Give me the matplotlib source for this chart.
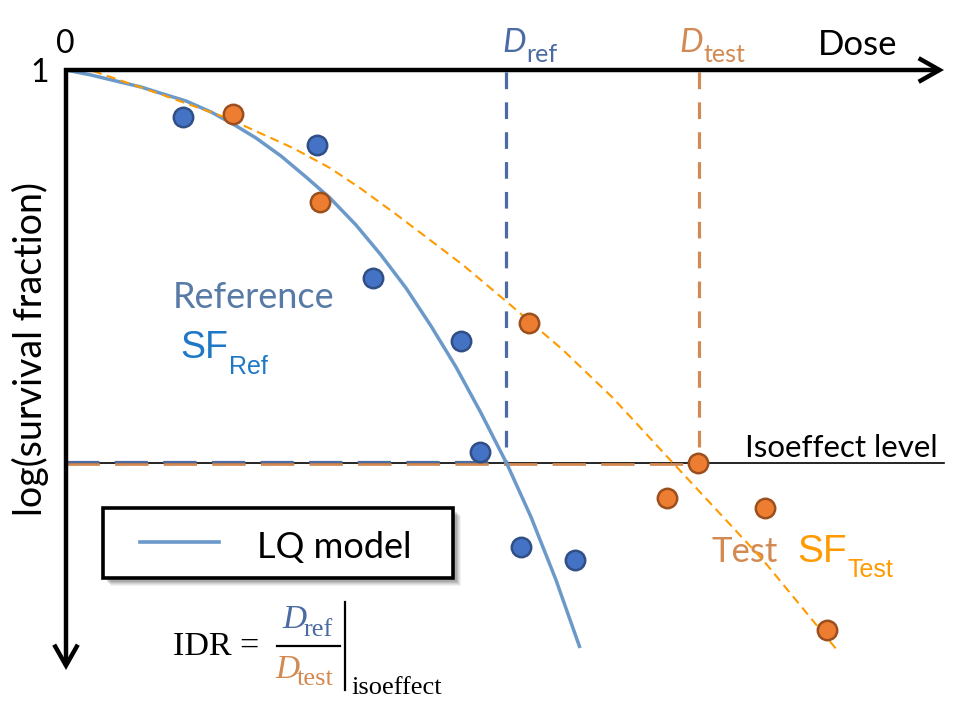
import matplotlib
matplotlib.use("Agg")
import matplotlib.pyplot as plt
from matplotlib.patches import Rectangle
from matplotlib.lines import Line2D

plt.rcParams['lines.scale_dashes'] = False

# Measured survival (log scale) for the reference and test radiations
ref_dose = [1.17, 2.51, 3.07, 3.95, 4.14, 4.55, 5.09]
ref_logsf = [-0.47, -0.75, -2.08, -2.71, -3.82, -4.77, -4.90]
test_dose = [1.67, 2.54, 4.63, 6.32, 6.01, 6.99, 7.61]
test_logsf = [-0.44, -1.32, -2.53, -3.93, -4.28, -4.38, -5.60]

# LQ model curve through the reference data
lq_dose = [0.00, 0.25, 0.50, 0.75, 0.94, 1.20, 1.45, 1.67, 1.90, 2.15, 2.40,
           2.64, 2.90, 3.15, 3.40, 3.65, 3.90, 4.15, 4.41, 4.65, 4.90, 5.14]
lq_logsf = [0.00, -0.05, -0.11, -0.17, -0.23, -0.31, -0.42, -0.54, -0.68,
            -0.86, -1.07, -1.28, -1.55, -1.85, -2.18, -2.56, -2.97, -3.43,
            -3.94, -4.47, -5.10, -5.78]

# Fitted curve through the test data
fit_dose = [0.27, 0.94, 1.61, 2.27, 2.64, 2.94, 3.31, 3.97, 4.41, 4.97, 5.47,
            6.07, 6.97, 7.71]
fit_logsf = [-0.01, -0.24, -0.48, -0.78, -0.98, -1.18, -1.45, -1.95, -2.32,
             -2.80, -3.28, -3.93, -4.90, -5.80]

# Isoeffect level and the doses that reach it
iso_level = -3.93
d_ref = 4.40
d_test = 6.33

# Colours
C_LQ = '#6B99C9'
C_REF_PT = '#4472C4'
C_REF_EDGE = '#2F4F86'
C_TEST_PT = '#ED7D31'
C_TEST_EDGE = '#9C4F1E'
C_FIT = '#FF9A00'
C_DREF = '#4A6BA3'
C_DTEST = '#D38A52'
C_REF_TXT = '#587AA6'
C_SFREF = '#1E78C6'

SANS = 'Lato'
ARIAL = 'Liberation Sans'
SERIF = 'Liberation Serif'

fig = plt.figure(figsize=(9.63, 7.11), dpi=100)
ax = fig.add_axes([0, 0, 1, 1])
ax.set_xlim(-0.66, 8.97)
ax.set_ylim(-6.41, 0.70)
ax.axis('off')

# Axes drawn as arrows from the origin
arrow_kw = dict(arrowstyle='->,head_length=15,head_width=8.5', lw=3.2,
                color='black', shrinkA=0, shrinkB=0, mutation_scale=1,
                joinstyle='miter', capstyle='butt')
ax.annotate('', xy=(8.78, 0), xytext=(-0.02, 0), arrowprops=arrow_kw, zorder=6)
ax.annotate('', xy=(0, -6.00), xytext=(0, 0.02), arrowprops=arrow_kw, zorder=6)

# Isoeffect level
ax.plot([0, 8.78], [iso_level, iso_level], color='black', lw=1.2, zorder=2)
ax.plot([0, d_test], [iso_level - 0.008, iso_level - 0.008], color=C_DTEST,
        lw=2.0, dashes=(24, 11), zorder=3)
ax.plot([0, d_ref], [iso_level + 0.008, iso_level + 0.008], color=C_DREF,
        lw=1.6, dashes=(24, 11), zorder=3)

# Doses giving the isoeffect
ax.plot([d_ref, d_ref], [-0.02, iso_level], color=C_DREF, lw=2.3,
        dashes=(12, 9.5), zorder=3)
ax.plot([d_test, d_test], [-0.02, iso_level], color=C_DTEST, lw=2.3,
        dashes=(12, 9.5), zorder=3)

# Curves
ax.plot(lq_dose, lq_logsf, color=C_LQ, lw=2.5, solid_capstyle='butt',
        solid_joinstyle='round', zorder=4)
ax.plot(fit_dose, fit_logsf, color=C_FIT, lw=1.5, dashes=(6.5, 4), zorder=4)

# Data points
ax.scatter(ref_dose, ref_logsf, s=195, color=C_REF_PT, edgecolor=C_REF_EDGE,
           linewidth=1.8, zorder=5)
ax.scatter(test_dose, test_logsf, s=195, color=C_TEST_PT, edgecolor=C_TEST_EDGE,
           linewidth=1.8, zorder=5)

# Axis texts
ax.text(-0.01, 0.17, '0', fontsize=23, family=SANS, ha='center', va='baseline')
ax.text(-0.26, -0.12, '1', fontsize=23, family=SANS, ha='center', va='baseline')
ax.text(7.52, 0.15, 'Dose', fontsize=25, family=SANS, ha='left', va='baseline')
ax.text(-0.36, -2.79, 'log(survival fraction)', fontsize=27, family=SANS,
        rotation=90, ha='center', va='center')

ax.text(4.36, 0.18, 'D', fontsize=24, family=SANS, style='italic',
        color=C_DREF, ha='left', va='baseline')
ax.text(4.60, 0.08, 'ref', fontsize=18, family=SANS, color=C_DREF,
        ha='left', va='baseline')
ax.text(6.13, 0.18, 'D', fontsize=24, family=SANS, style='italic',
        color=C_DTEST, ha='left', va='baseline')
ax.text(6.37, 0.08, 'test', fontsize=18, family=SANS, color=C_DTEST,
        ha='left', va='baseline')

ax.text(6.79, -3.87, 'Isoeffect level', fontsize=22.5, family=SANS,
        ha='left', va='baseline')

# Curve labels
ax.text(1.07, -2.38, 'Reference', fontsize=26, family=SANS, color=C_REF_TXT,
        ha='left', va='baseline')
ax.text(1.14, -2.88, 'SF', fontsize=27, family=ARIAL, color=C_SFREF,
        ha='left', va='baseline')
ax.text(1.63, -3.04, 'Ref', fontsize=18, family=ARIAL, color=C_SFREF,
        ha='left', va='baseline')

ax.text(6.46, -4.92, 'Test', fontsize=25, family=SANS, color=C_DTEST,
        ha='left', va='baseline')
ax.text(7.31, -4.92, 'SF', fontsize=28, family=ARIAL, color=C_FIT,
        ha='left', va='baseline')
ax.text(7.82, -5.07, 'Test', fontsize=18, family=ARIAL, color=C_FIT,
        ha='left', va='baseline')

# Legend box with a soft drop shadow
box_x0, box_y0, box_w, box_h = 0.37, -5.08, 3.50, 0.70
for i, a in enumerate([0.05, 0.06, 0.07, 0.09, 0.11]):
    off = 0.075 - i * 0.01
    ax.add_patch(Rectangle((box_x0 + off, box_y0 - off), box_w, box_h,
                           facecolor='black', edgecolor='none', alpha=a,
                           zorder=6))
ax.add_patch(Rectangle((box_x0, box_y0), box_w, box_h, facecolor='white',
                       edgecolor='black', lw=2.6, zorder=7))
ax.add_line(Line2D([0.74, 1.53], [-4.72, -4.72], color=C_LQ, lw=2.6, zorder=8))
ax.text(1.91, -4.88, 'LQ model', fontsize=26, family=SANS, ha='left',
        va='baseline', zorder=8)

# IDR definition
ax.text(1.07, -5.85, 'IDR =', fontsize=24.5, family=SERIF, ha='left',
        va='baseline')
ax.text(2.16, -5.58, 'D', fontsize=24, family=SERIF, style='italic',
        color=C_DREF, ha='left', va='baseline')
ax.text(2.38, -5.66, 'ref', fontsize=19, family=SERIF, color=C_DREF,
        ha='left', va='baseline')
ax.plot([2.11, 2.74], [-5.76, -5.76], color='black', lw=1.6)
ax.text(2.09, -6.08, 'D', fontsize=24, family=SERIF, style='italic',
        color=C_DTEST, ha='left', va='baseline')
ax.text(2.31, -6.15, 'test', fontsize=19, family=SERIF, color=C_DTEST,
        ha='left', va='baseline')
ax.plot([2.79, 2.79], [-5.32, -6.20], color='black', lw=1.6)
ax.text(2.85, -6.24, 'isoeffect', fontsize=19, family=SERIF, ha='left',
        va='baseline')

fig.savefig('out.png', dpi=100, facecolor='white')
